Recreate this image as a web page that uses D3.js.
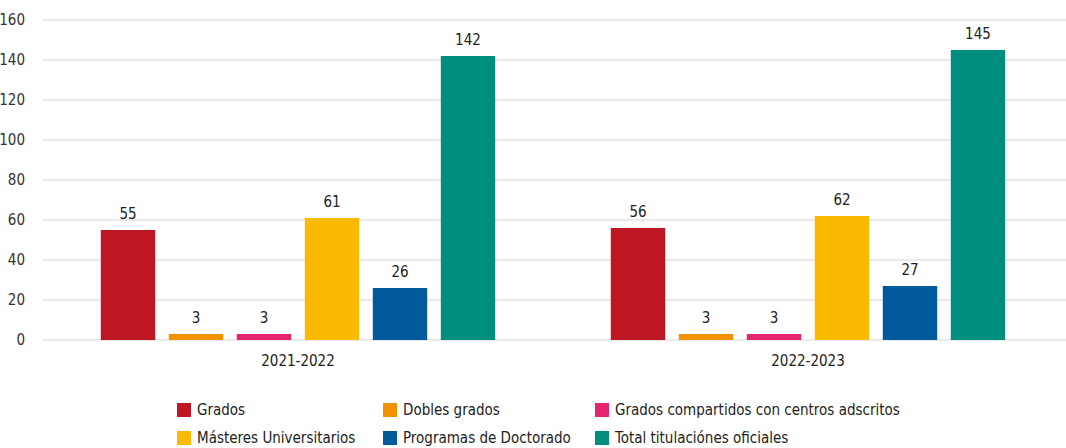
<!DOCTYPE html>
<html>
<head>
<meta charset="utf-8">
<script src="https://cdn.jsdelivr.net/npm/d3@7"></script>
<style>
  body { margin: 0; background: #fff; }
  svg { font-family: "Liberation Sans Narrow", "DejaVu Sans Condensed", "Roboto", sans-serif; }
</style>
</head>
<body>
<div id="chart"></div>
<script>
// categories and series
var years = ["2021-2022", "2022-2023"];
var series = ["Grados", "Dobles grados", "Grados compartidos con centros adscritos",
              "Másteres Universitarios", "Programas de Doctorado", "Total titulaciónes oficiales"];
var colors = ["#be1622", "#f39200", "#e6236f", "#fbba00", "#005a9c", "#008e7f"];
var values2021 = [55, 3, 3, 61, 26, 142];
var values2022 = [56, 3, 3, 62, 27, 145];
var yTicks = [0, 20, 40, 60, 80, 100, 120, 140, 160];

var allValues = [values2021, values2022];

var width = 1066, height = 448;
var margin = {top: 20, left: 43, right: 3, bottom: 108};
var plotH = height - margin.top - margin.bottom;

var svg = d3.select("#chart").append("svg")
    .attr("width", width)
    .attr("height", height);

var x0 = d3.scaleBand().domain(years).range([margin.left, width - margin.right]).padding(0);
var x1 = d3.scaleBand().domain(series).range([51, 459]).paddingInner(0.2).paddingOuter(0.1);
var y = d3.scaleLinear().domain([0, 160]).range([margin.top + plotH, margin.top]);

// gridlines
svg.append("g").selectAll("line")
  .data(yTicks)
  .enter().append("line")
    .attr("x1", margin.left)
    .attr("x2", width)
    .attr("y1", function(d) { return y(d); })
    .attr("y2", function(d) { return y(d); })
    .attr("stroke", "#e3e3e3")
    .attr("stroke-width", 1.5);

// y axis labels
svg.append("g").selectAll("text")
  .data(yTicks)
  .enter().append("text")
    .attr("x", 25)
    .attr("y", function(d) { return y(d); })
    .attr("dy", "0.35em")
    .attr("text-anchor", "end")
    .attr("fill", "#333")
    .style("font-size", "15px")
    .text(function(d) { return d; });

// bars
var groups = svg.append("g").selectAll("g")
  .data(years)
  .enter().append("g")
    .attr("transform", function(d) { return "translate(" + x0(d) + ",0)"; });

groups.selectAll("rect")
  .data(function(d, i) { return allValues[i].map(function(v, j) { return {key: series[j], value: v, color: colors[j]}; }); })
  .enter().append("rect")
    .attr("x", function(d) { return x1(d.key); })
    .attr("y", function(d) { return y(d.value); })
    .attr("width", x1.bandwidth())
    .attr("height", function(d) { return y(0) - y(d.value); })
    .attr("fill", function(d) { return d.color; });

groups.selectAll("text.val")
  .data(function(d, i) { return allValues[i].map(function(v, j) { return {key: series[j], value: v}; }); })
  .enter().append("text")
    .attr("class", "val")
    .attr("x", function(d) { return x1(d.key) + x1.bandwidth() / 2; })
    .attr("y", function(d) { return y(d.value) - 11; })
    .attr("text-anchor", "middle")
    .attr("fill", "#222")
    .style("font-size", "15px")
    .text(function(d) { return d.value; });

// x axis labels
svg.append("g").selectAll("text")
  .data(years)
  .enter().append("text")
    .attr("x", function(d) { return x0(d) + x0.bandwidth() / 2; })
    .attr("y", y(0) + 26)
    .attr("text-anchor", "middle")
    .attr("fill", "#222")
    .style("font-size", "15px")
    .text(function(d) { return d; });

// legend
var legendX = [177, 383, 595];
var legendY = [410, 438];
var legend = svg.append("g").selectAll("g")
  .data(series)
  .enter().append("g")
    .attr("transform", function(d, i) {
      return "translate(" + legendX[i % 3] + "," + legendY[Math.floor(i / 3)] + ")";
    });

legend.append("rect")
    .attr("x", 0)
    .attr("y", -7)
    .attr("width", 14)
    .attr("height", 14)
    .attr("fill", function(d, i) { return colors[i]; });

legend.append("text")
    .attr("x", 20)
    .attr("y", 0)
    .attr("dy", "0.35em")
    .attr("fill", "#222")
    .style("font-size", "15px")
    .text(function(d) { return d; });
</script>
</body>
</html>
